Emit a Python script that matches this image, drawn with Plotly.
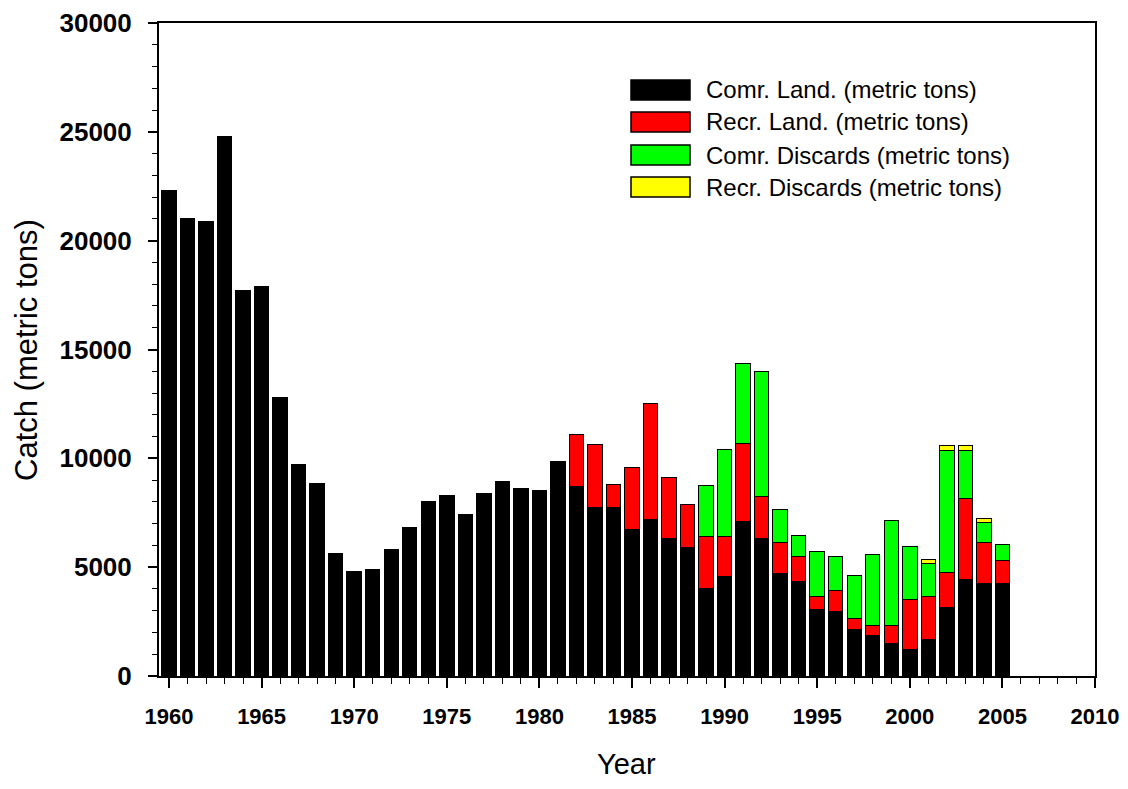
import plotly.graph_objects as go

years = list(range(1960, 2006))

comr_land = [22300, 21000, 20900, 24800, 17700, 17900, 12800, 9700, 8850, 5650,
             4800, 4900, 5800, 6800, 8000, 8300, 7400, 8400, 8950, 8600,
             8500, 9850, 8700, 7750, 7750, 6750, 7200, 6300, 5900, 4000,
             4550, 7100, 6300, 4700, 4350, 3050, 2950, 2150, 1850, 1500,
             1200, 1700, 3150, 4450, 4250, 4250]

recr_land = [0] * 22 + [2400, 2900, 1050, 2850, 5300, 2800, 2000, 2400,
                        1850, 3600, 1950, 1450, 1150, 600, 1000, 500, 450, 800,
                        2300, 1950, 1600, 3700, 1900, 1050]

comr_disc = [0] * 29 + [2350, 4000, 3650, 5750, 1500, 950, 2050, 1550, 1950,
                        3300, 4850, 2450, 1500, 5600, 2200, 900, 750]

recr_disc = [0] * 41 + [200, 250, 250, 200, 0]

series_names = ["Comr. Land. (metric tons)", "Recr. Land. (metric tons)",
                "Comr. Discards (metric tons)", "Recr. Discards (metric tons)"]
series_colors = ["#000000", "#FF0000", "#00FF00", "#FFFF00"]
series_values = [comr_land, recr_land, comr_disc, recr_disc]

y_ticks = [0, 5000, 10000, 15000, 20000, 25000, 30000]
x_ticks = [1960, 1965, 1970, 1975, 1980, 1985, 1990, 1995, 2000, 2005, 2010]

x_title = "Year"
y_title = "Catch (metric tons)"

FONT = "Arial, 'Liberation Sans', sans-serif"
# page has an 8px body margin, so the figure is drawn at offset (8, 8);
# keep the figure small enough that no scrollbar appears
OFF = 8
W, H = 1112, 773
L, R, T, B = 151, 25, 15, 105

fig = go.Figure()
for name, color, vals in zip(series_names, series_colors, series_values):
    fig.add_trace(go.Bar(
        x=years,
        y=[v if v > 0 else None for v in vals],
        name=name,
        marker=dict(color=color, line=dict(color="black", width=1)),
        width=0.78,
        showlegend=False,
    ))

fig.update_layout(
    barmode="stack",
    width=W, height=H,
    margin=dict(l=L, r=R, t=T, b=B, pad=0, autoexpand=False),
    plot_bgcolor="white", paper_bgcolor="white",
    font=dict(family=FONT, color="black"),
)

fig.update_xaxes(
    range=[1959.46, 2010],
    automargin=False,
    tickvals=x_ticks,
    ticktext=[str(v) for v in x_ticks],
    ticks="outside", ticklen=10, tickwidth=1.5, tickcolor="black",
    minor=dict(dtick=1, tick0=1960, ticks="outside", ticklen=6, tickwidth=1.2, tickcolor="black", showgrid=False),
    showline=True, linecolor="black", linewidth=2, mirror=True,
    showgrid=False, zeroline=False,
    tickfont=dict(family=FONT, size=22, color="black", weight="bold"),
    ticklabelstandoff=10,
    ticklabeloverflow="allow",
)
fig.update_yaxes(
    range=[0, 30000],
    automargin=False,
    tickvals=y_ticks,
    ticktext=[str(v) for v in y_ticks],
    ticks="outside", ticklen=9, tickwidth=1.5, tickcolor="black",
    minor=dict(dtick=1000, tick0=0, ticks="outside", ticklen=5, tickwidth=1.2, tickcolor="black", showgrid=False),
    showline=True, linecolor="black", linewidth=2, mirror=True,
    showgrid=False, zeroline=False,
    tickfont=dict(family=FONT, size=26, color="black", weight="bold"),
    ticklabelstandoff=11,
)

pw, ph = W - L - R, H - T - B
def px_x(p):
    return (p - OFF - L) / pw
def px_y(p):
    return (H - B - (p - OFF)) / ph

# Axis titles
fig.add_annotation(xref="paper", yref="paper", x=px_x(626), y=px_y(764),
                   text=x_title, showarrow=False, xanchor="center", yanchor="middle",
                   font=dict(family=FONT, size=29, color="black"))
fig.add_annotation(xref="paper", yref="paper", x=px_x(27), y=px_y(350),
                   text=y_title, showarrow=False, textangle=-90,
                   xanchor="center", yanchor="middle",
                   font=dict(family=FONT, size=31, color="black"))

# Manual legend with wide swatches
row_centers = [90, 122, 155, 187]
for name, color, cy in zip(series_names, series_colors, row_centers):
    fig.add_shape(type="rect", xref="paper", yref="paper",
                  x0=px_x(631), x1=px_x(690), y0=px_y(cy - 10), y1=px_y(cy + 10),
                  fillcolor=color, line=dict(color="black", width=1.5))
    fig.add_annotation(xref="paper", yref="paper", x=px_x(704), y=px_y(cy),
                       text=name, showarrow=False, xanchor="left", yanchor="middle",
                       font=dict(family=FONT, size=24, color="black"))

fig.write_html("out.html")
